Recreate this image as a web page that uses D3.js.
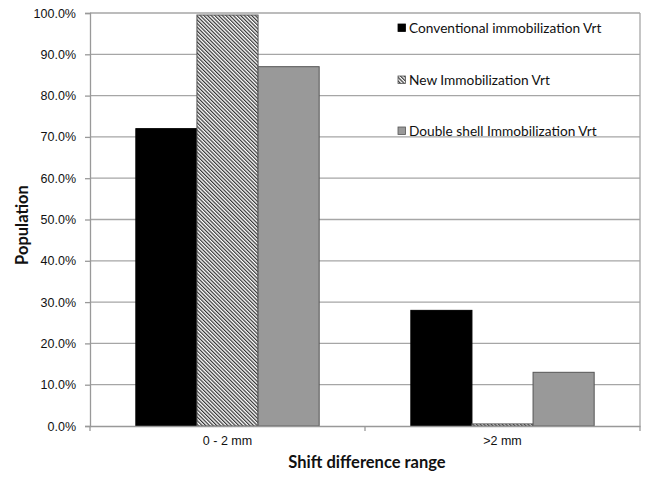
<!DOCTYPE html>
<html><head><meta charset="utf-8">
<script src="https://cdn.jsdelivr.net/npm/d3@7"></script>
<style>body{margin:0;background:#fff;} svg{display:block;font-family:Lato,"Open Sans",sans-serif;}</style>
</head><body><svg id="c" width="646" height="477"></svg>
<script>
const categories = ["0 - 2 mm", ">2 mm"];
const seriesNames = ["Conventional immobilization Vrt", "New Immobilization Vrt", "Double shell Immobilization Vrt"];
const conventional = [0.72, 0.28];
const newImmob = [0.995, 0.005];
const doubleShell = [0.87, 0.13];
const yTicks = [0, 0.1, 0.2, 0.3, 0.4, 0.5, 0.6, 0.7, 0.8, 0.9, 1.0];

const seriesValues = [conventional, newImmob, doubleShell];
const svg = d3.select("#c");
const m = {l: 90, r: 6, t: 13, b: 51};
const W = 646, H = 477;
const x = d3.scaleBand().domain(categories).range([m.l, W - m.r]);
const xs = d3.scaleBand().domain(seriesNames).range([0, x.bandwidth()]).paddingInner(0).paddingOuter(0.75);
const y = d3.scaleLinear().domain([0, 1]).range([H - m.b, m.t]);

const defs = svg.append("defs");
const pat = defs.append("pattern").attr("id", "hatch").attr("patternUnits", "userSpaceOnUse")
  .attr("width", 2.6).attr("height", 2.6).attr("patternTransform", "rotate(-45)");
pat.append("rect").attr("width", 2.6).attr("height", 2.6).attr("fill", "#fff");
pat.append("rect").attr("width", 1.2).attr("height", 2.6).attr("fill", "#333");

const fills = ["#000", "url(#hatch)", "#999"];
const strokes = ["#000", "#555", "#555"];

// gridlines
svg.append("g").selectAll("line").data(yTicks.slice(1)).join("line")
  .attr("x1", m.l).attr("x2", W - m.r).attr("y1", d => y(d)).attr("y2", d => y(d))
  .attr("stroke", "#a6a6a6").attr("stroke-width", 1.3);
// right border
svg.append("line").attr("x1", W - m.r).attr("x2", W - m.r).attr("y1", m.t).attr("y2", H - m.b)
  .attr("stroke", "#a6a6a6").attr("stroke-width", 1.3);

// bars
seriesNames.forEach((s, i) => {
  svg.append("g").selectAll("rect").data(categories).join("rect")
    .attr("x", (c) => x(c) + xs(s))
    .attr("width", xs.bandwidth())
    .attr("y", (c, j) => y(seriesValues[i][j]))
    .attr("height", (c, j) => y(0) - y(seriesValues[i][j]))
    .attr("fill", fills[i]).attr("stroke", strokes[i]).attr("stroke-width", 1);
});

// y axis
const ya = d3.axisLeft(y).tickValues(yTicks).tickFormat(d3.format(".1%")).tickSize(5).tickPadding(9);
const yg = svg.append("g").attr("transform", `translate(${m.l},0)`).call(ya);
yg.select(".domain").attr("stroke", "#999").attr("stroke-width", 1.3);
yg.selectAll(".tick line").attr("stroke", "#999").attr("stroke-width", 1.3);
yg.selectAll("text").attr("font-size", 12.5).attr("fill", "#111");

// x axis
const xa = d3.axisBottom(x).tickSize(0).tickPadding(10);
const xg = svg.append("g").attr("transform", `translate(0,${y(0)})`).call(xa);
xg.select(".domain").attr("stroke", "#999").attr("stroke-width", 1.3);
xg.selectAll(".tick line").remove();
xg.selectAll("text").attr("font-size", 12.5).attr("fill", "#111");
const bounds = [m.l, x(categories[1]), W - m.r];
svg.append("g").selectAll("line").data(bounds).join("line")
  .attr("x1", d => d).attr("x2", d => d).attr("y1", y(0)).attr("y2", y(0) + 5)
  .attr("stroke", "#999").attr("stroke-width", 1.3);

// axis titles
svg.append("text").attr("x", (m.l + W - m.r) / 2 + 2).attr("y", 468).attr("text-anchor", "middle")
  .attr("font-size", 16.5).attr("font-weight", "bold").attr("fill", "#111").text("Shift difference range");
svg.append("text").attr("transform", "translate(28,225) rotate(-90)").attr("text-anchor", "middle")
  .attr("font-size", 16.5).attr("font-weight", "bold").attr("fill", "#111").text("Population");

// legend
const legY = [28, 80, 131];
const lg = svg.append("g");
seriesNames.forEach((s, i) => {
  lg.append("rect").attr("x", 398).attr("y", legY[i] - 4).attr("width", 7.5).attr("height", 7.5)
    .attr("fill", fills[i]).attr("stroke", i === 0 ? "#000" : "#555").attr("stroke-width", 0.8);
  lg.append("text").attr("x", 409).attr("y", legY[i]).attr("dy", "0.35em")
    .attr("font-size", 13.7).attr("fill", "#111").text(s);
});
</script></body></html>
